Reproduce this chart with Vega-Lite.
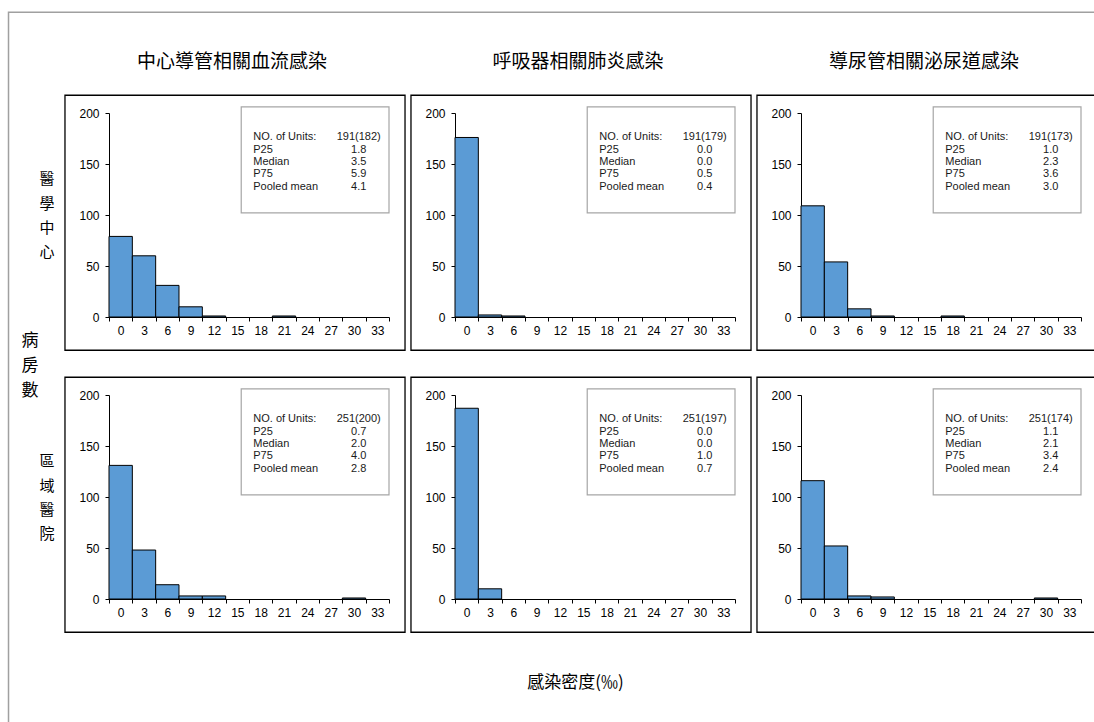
{
  "$schema": "https://vega.github.io/schema/vega-lite/v6.json",
  "padding": {"left": 7, "top": 11, "right": 0, "bottom": 0},
  "background": "white",
  "bounds": "flush",
  "config": {
    "font": "Liberation Sans",
    "view": {"stroke": null},
    "axis": {
      "domainColor": "black",
      "tickColor": "black",
      "labelColor": "black",
      "labelFont": "Liberation Sans",
      "labelFontSize": 12,
      "tickSize": 4,
      "grid": false,
      "title": null,
      "labelOverlap": false
    }
  },
  "data": {
    "values": [
      {"kind": "bar", "hosp": "醫學中心", "type": "中心導管相關血流感染", "density": 0, "count": 79},
      {"kind": "bar", "hosp": "醫學中心", "type": "中心導管相關血流感染", "density": 3, "count": 60},
      {"kind": "bar", "hosp": "醫學中心", "type": "中心導管相關血流感染", "density": 6, "count": 31},
      {"kind": "bar", "hosp": "醫學中心", "type": "中心導管相關血流感染", "density": 9, "count": 10},
      {"kind": "bar", "hosp": "醫學中心", "type": "中心導管相關血流感染", "density": 12, "count": 1},
      {"kind": "bar", "hosp": "醫學中心", "type": "中心導管相關血流感染", "density": 21, "count": 1},
      {"kind": "bar", "hosp": "醫學中心", "type": "呼吸器相關肺炎感染", "density": 0, "count": 176},
      {"kind": "bar", "hosp": "醫學中心", "type": "呼吸器相關肺炎感染", "density": 3, "count": 2},
      {"kind": "bar", "hosp": "醫學中心", "type": "呼吸器相關肺炎感染", "density": 6, "count": 1},
      {"kind": "bar", "hosp": "醫學中心", "type": "導尿管相關泌尿道感染", "density": 0, "count": 109},
      {"kind": "bar", "hosp": "醫學中心", "type": "導尿管相關泌尿道感染", "density": 3, "count": 54},
      {"kind": "bar", "hosp": "醫學中心", "type": "導尿管相關泌尿道感染", "density": 6, "count": 8},
      {"kind": "bar", "hosp": "醫學中心", "type": "導尿管相關泌尿道感染", "density": 9, "count": 1},
      {"kind": "bar", "hosp": "醫學中心", "type": "導尿管相關泌尿道感染", "density": 18, "count": 1},
      {"kind": "bar", "hosp": "區域醫院", "type": "中心導管相關血流感染", "density": 0, "count": 131},
      {"kind": "bar", "hosp": "區域醫院", "type": "中心導管相關血流感染", "density": 3, "count": 48},
      {"kind": "bar", "hosp": "區域醫院", "type": "中心導管相關血流感染", "density": 6, "count": 14},
      {"kind": "bar", "hosp": "區域醫院", "type": "中心導管相關血流感染", "density": 9, "count": 3},
      {"kind": "bar", "hosp": "區域醫院", "type": "中心導管相關血流感染", "density": 12, "count": 3},
      {"kind": "bar", "hosp": "區域醫院", "type": "中心導管相關血流感染", "density": 30, "count": 1},
      {"kind": "bar", "hosp": "區域醫院", "type": "呼吸器相關肺炎感染", "density": 0, "count": 187},
      {"kind": "bar", "hosp": "區域醫院", "type": "呼吸器相關肺炎感染", "density": 3, "count": 10},
      {"kind": "bar", "hosp": "區域醫院", "type": "導尿管相關泌尿道感染", "density": 0, "count": 116},
      {"kind": "bar", "hosp": "區域醫院", "type": "導尿管相關泌尿道感染", "density": 3, "count": 52},
      {"kind": "bar", "hosp": "區域醫院", "type": "導尿管相關泌尿道感染", "density": 6, "count": 3},
      {"kind": "bar", "hosp": "區域醫院", "type": "導尿管相關泌尿道感染", "density": 9, "count": 2},
      {"kind": "bar", "hosp": "區域醫院", "type": "導尿管相關泌尿道感染", "density": 30, "count": 1},
      {"kind": "stats", "hosp": "醫學中心", "type": "中心導管相關血流感染", "stats": "191(182)\n1.8\n3.5\n5.9\n4.1"},
      {"kind": "stats", "hosp": "醫學中心", "type": "呼吸器相關肺炎感染", "stats": "191(179)\n0.0\n0.0\n0.5\n0.4"},
      {"kind": "stats", "hosp": "醫學中心", "type": "導尿管相關泌尿道感染", "stats": "191(173)\n1.0\n2.3\n3.6\n3.0"},
      {"kind": "stats", "hosp": "區域醫院", "type": "中心導管相關血流感染", "stats": "251(200)\n0.7\n2.0\n4.0\n2.8"},
      {"kind": "stats", "hosp": "區域醫院", "type": "呼吸器相關肺炎感染", "stats": "251(197)\n0.0\n0.0\n1.0\n0.7"},
      {"kind": "stats", "hosp": "區域醫院", "type": "導尿管相關泌尿道感染", "stats": "251(174)\n1.1\n2.1\n3.4\n2.4"}
    ]
  },
  "facet": {
    "row": {
      "field": "hosp",
      "type": "nominal",
      "sort": ["醫學中心", "區域醫院"],
      "header": {"title": null, "labels": false}
    },
    "column": {
      "field": "type",
      "type": "nominal",
      "sort": ["中心導管相關血流感染", "呼吸器相關肺炎感染", "導尿管相關泌尿道感染"],
      "header": {"title": null, "labels": false}
    }
  },
  "spacing": {"row": 78, "column": 66},
  "resolve": {"axis": {"x": "independent", "y": "independent"}},
  "spec": {
    "width": 280,
    "height": 204,
    "layer": [
      {
        "transform": [{"filter": "datum.kind === 'stats' && datum.type === '中心導管相關血流感染' && datum.hosp === '醫學中心'"}],
        "mark": {"type": "rect", "fill": null, "stroke": "#a0a0a0", "strokeWidth": 1.5},
        "encoding": {
          "x": {"datum": -14.42, "type": "quantitative", "scale": {"domain": [-1.5, 34.5], "nice": false, "zero": false, "padding": 0}},
          "x2": {"datum": 125.46},
          "y": {"datum": 298.7, "type": "quantitative", "scale": {"domain": [0, 200], "nice": false}},
          "y2": {"datum": -399.3}
        }
      },
      {
        "transform": [{"filter": "datum.kind === 'bar'"}],
        "mark": {"type": "bar", "width": 23.333, "fill": "#5b9bd5", "stroke": "black", "strokeWidth": 1},
        "encoding": {
          "x": {
            "field": "density",
            "type": "quantitative",
            "scale": {"domain": [-1.5, 34.5], "nice": false, "zero": false, "padding": 0},
            "axis": {
              "values": [-1.5, 1.5, 4.5, 7.5, 10.5, 13.5, 16.5, 19.5, 22.5, 25.5, 28.5, 31.5, 34.5],
              "tickCount": 20,
              "labelExpr": "datum.value > 34 ? '' : format(datum.value + 1.5, 'd')",
              "labelOffset": 11.667,
              "labelFlush": false,
              "labelOverlap": false,
              "labelBound": false,
              "labelPadding": 4
            }
          },
          "y": {
            "field": "count",
            "type": "quantitative",
            "scale": {"domain": [0, 200], "nice": false},
            "axis": {"values": [0, 50, 100, 150, 200], "tickCount": 10, "labelPadding": 6}
          }
        }
      },
      {
        "transform": [{"filter": "datum.kind === 'stats'"}],
        "mark": {"type": "rect", "fill": "white", "stroke": "#a6a6a6", "strokeWidth": 1.2},
        "encoding": {
          "x": {"datum": 15.5, "type": "quantitative", "scale": {"domain": [-1.5, 34.5], "nice": false, "zero": false, "padding": 0}},
          "x2": {"datum": 34.5},
          "y": {"datum": 102, "type": "quantitative", "scale": {"domain": [0, 200], "nice": false}},
          "y2": {"datum": 206}
        }
      },
      {
        "transform": [{"filter": "datum.kind === 'stats'"}],
        "mark": {"type": "text", "align": "left", "baseline": "top", "font": "Liberation Sans", "fontSize": 11, "lineHeight": 12.3, "color": "#1a1a1a"},
        "encoding": {
          "x": {"datum": 17.05, "type": "quantitative", "scale": {"domain": [-1.5, 34.5], "nice": false, "zero": false, "padding": 0}},
          "y": {"datum": 182, "type": "quantitative", "scale": {"domain": [0, 200], "nice": false}},
          "text": {"value": ["NO. of Units:", "P25", "Median", "P75", "Pooled mean"]}
        }
      },
      {
        "transform": [{"filter": "datum.kind === 'stats'"}],
        "mark": {"type": "text", "align": "center", "baseline": "top", "font": "Liberation Sans", "fontSize": 11, "lineHeight": 12.3, "lineBreak": "\n", "color": "#1a1a1a"},
        "encoding": {
          "x": {"datum": 30.6, "type": "quantitative", "scale": {"domain": [-1.5, 34.5], "nice": false, "zero": false, "padding": 0}},
          "y": {"datum": 182, "type": "quantitative", "scale": {"domain": [0, 200], "nice": false}},
          "text": {"field": "stats", "type": "nominal"}
        }
      },
      {
        "transform": [{"filter": "datum.kind === 'stats'"}],
        "mark": {"type": "rect", "fill": null, "stroke": "black", "strokeWidth": 1.3},
        "encoding": {
          "x": {"datum": -7.16, "type": "quantitative", "scale": {"domain": [-1.5, 34.5], "nice": false, "zero": false, "padding": 0}},
          "x2": {"datum": 36.56},
          "y": {"datum": 217.4, "type": "quantitative", "scale": {"domain": [0, 200], "nice": false}},
          "y2": {"datum": -32.6}
        }
      },
      {
        "transform": [{"filter": "datum.kind === 'stats' && datum.hosp === '醫學中心'"}],
        "mark": {"type": "text", "align": "center", "baseline": "middle", "font": "Noto Sans CJK TC", "fontSize": 19, "color": "black"},
        "encoding": {
          "x": {"datum": 14.3, "type": "quantitative", "scale": {"domain": [-1.5, 34.5], "nice": false, "zero": false, "padding": 0}},
          "y": {"datum": 249.7, "type": "quantitative", "scale": {"domain": [0, 200], "nice": false}},
          "text": {"field": "type", "type": "nominal"}
        }
      },
      {
        "transform": [{"filter": "datum.kind === 'stats' && datum.type === '中心導管相關血流感染' && datum.hosp === '醫學中心'"}],
        "mark": {"type": "text", "align": "center", "baseline": "middle", "font": "Noto Sans CJK TC", "fontSize": 15, "lineHeight": 24.3, "color": "black"},
        "encoding": {
          "x": {"datum": -9.47, "type": "quantitative", "scale": {"domain": [-1.5, 34.5], "nice": false, "zero": false, "padding": 0}},
          "y": {"datum": 135, "type": "quantitative", "scale": {"domain": [0, 200], "nice": false}},
          "text": {"value": ["醫", "學", "中", "心"]}
        }
      },
      {
        "transform": [{"filter": "datum.kind === 'stats' && datum.type === '中心導管相關血流感染' && datum.hosp === '區域醫院'"}],
        "mark": {"type": "text", "align": "center", "baseline": "middle", "font": "Noto Sans CJK TC", "fontSize": 15, "lineHeight": 24.3, "color": "black"},
        "encoding": {
          "x": {"datum": -9.47, "type": "quantitative", "scale": {"domain": [-1.5, 34.5], "nice": false, "zero": false, "padding": 0}},
          "y": {"datum": 135, "type": "quantitative", "scale": {"domain": [0, 200], "nice": false}},
          "text": {"value": ["區", "域", "醫", "院"]}
        }
      },
      {
        "transform": [{"filter": "datum.kind === 'stats' && datum.type === '中心導管相關血流感染' && datum.hosp === '醫學中心'"}],
        "mark": {"type": "text", "align": "center", "baseline": "middle", "font": "Noto Sans CJK TC", "fontSize": 17, "lineHeight": 25, "color": "black"},
        "encoding": {
          "x": {"datum": -11.66, "type": "quantitative", "scale": {"domain": [-1.5, 34.5], "nice": false, "zero": false, "padding": 0}},
          "y": {"datum": -24, "type": "quantitative", "scale": {"domain": [0, 200], "nice": false}},
          "text": {"value": ["病", "房", "數"]}
        }
      },
      {
        "transform": [{"filter": "datum.kind === 'stats' && datum.type === '呼吸器相關肺炎感染' && datum.hosp === '區域醫院'"}],
        "mark": {"type": "text", "align": "center", "baseline": "middle", "font": "Noto Sans CJK TC", "fontSize": 17, "color": "black"},
        "encoding": {
          "x": {"datum": 13.99, "type": "quantitative", "scale": {"domain": [-1.5, 34.5], "nice": false, "zero": false, "padding": 0}},
          "y": {"datum": -82.6, "type": "quantitative", "scale": {"domain": [0, 200], "nice": false}},
          "text": {"value": "感染密度(‰)"}
        }
      }
    ]
  }
}
